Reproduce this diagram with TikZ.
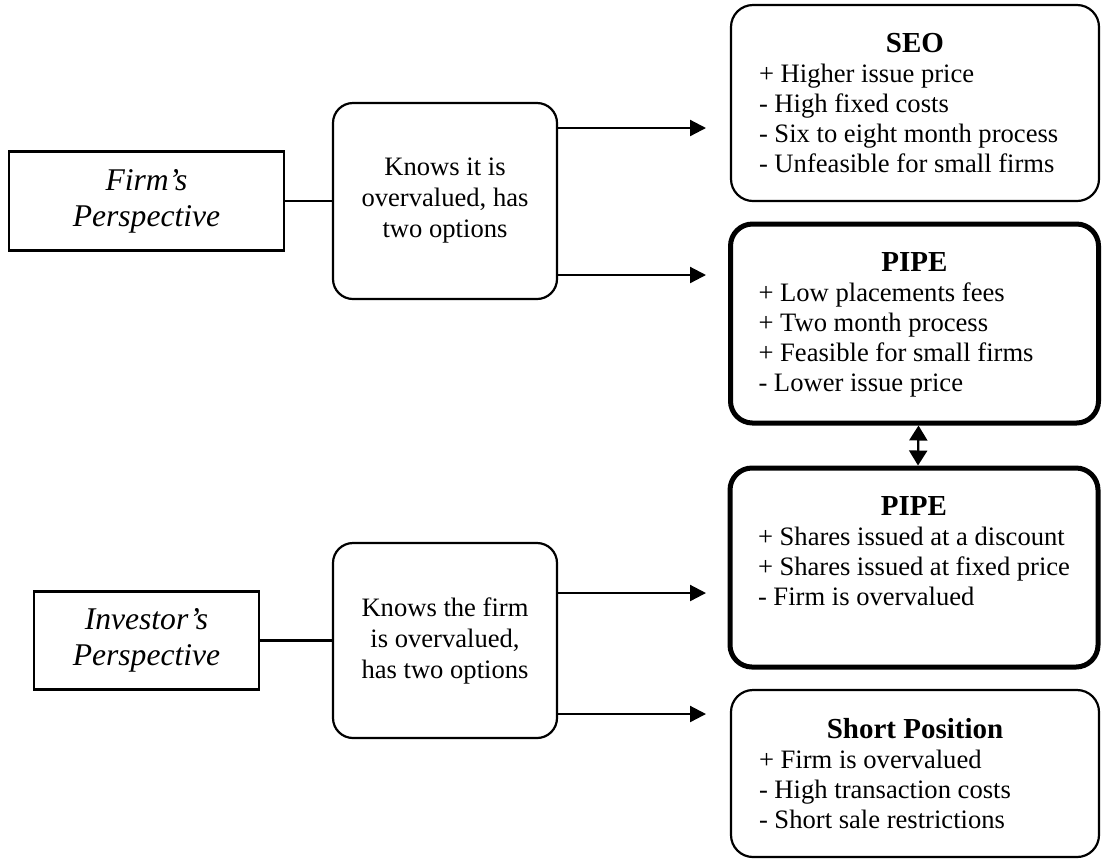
\documentclass[tikz,border=0pt]{standalone}
\usepackage{fontspec}
\setmainfont{Liberation Serif}
\usetikzlibrary{positioning, arrows.meta}

\begin{document}
\begin{tikzpicture}[x=0.5pt, y=-0.5pt, line width=1.1pt,
		persp/.style={draw, align=center, inner sep=0pt, font=\fontsize{15.8}{18}\selectfont\itshape},
		know/.style={draw, rounded corners=10pt, minimum width=112pt, minimum height=98pt, align=center, inner sep=0pt, font=\fontsize{13.3}{15.5}\selectfont},
		opt/.style={draw, rounded corners=11pt, inner xsep=14pt, inner ysep=0pt, font=\fontsize{13.3}{15}\selectfont,
			execute at begin node={\begin{minipage}[c][#1][t]{156pt}\vspace*{14pt}},
			execute at end node={\end{minipage}}},
		strong/.style={line width=2.5pt},
		arr/.style={-{Triangle[length=8pt,width=8pt]}},
		dbl/.style={{Triangle[length=7.5pt,width=9pt]}-{Triangle[length=7.5pt,width=9pt]}}]
			\useasboundingbox (0,0) rectangle (1102,859);
			
			\node[persp, minimum width=137.5pt, minimum height=49.5pt] (firm) at (146.5,201) {Firm’s\\Perspective};
			\node[persp, minimum width=112.5pt, minimum height=49pt] (inv) at (146.5,640.5) {Investor’s\\Perspective};
			
			\node[know] (know1) at (445,201) {Knows it is\\overvalued, has\\two options};
			\node[know, minimum height=97.5pt] (know2) at (445,640.5) {Knows the firm\\is overvalued,\\has two options};
			
			\node[opt=98pt] (seo) at (915,103) {{\centering\fontsize{14.5}{15}\selectfont\bfseries SEO\par}+ Higher issue price\\- High fixed costs\\- Six to eight month process\\- Unfeasible for small firms};
			\node[opt=99.5pt, strong] (pipe1) at (914.5,323.5) {{\centering\fontsize{14.5}{15}\selectfont\bfseries PIPE\par}+ Low placements fees\\+ Two month process\\+ Feasible for small firms\\- Lower issue price};
			\node[opt=99.5pt, strong] (pipe2) at (914,567.5) {{\centering\fontsize{14.5}{15}\selectfont\bfseries PIPE\par}+ Shares issued at a discount\\+ Shares issued at fixed price\\- Firm is overvalued};
			\node[opt=83.5pt] (short) at (915,773.5) {{\centering\fontsize{14.5}{15}\selectfont\bfseries Short Position\par}+ Firm is overvalued\\- High transaction costs\\- Short sale restrictions};
			
			% arrow ends stop short of the boxes
			\coordinate (t1) at (706,128);
			\coordinate (t2) at (706,275);
			\coordinate (t3) at (706,593);
			\coordinate (t4) at (706,714);
			
			\draw (firm) -- (know1);
			\draw (inv) -- (know2);
			\draw[arr] (know1.east |- t1) -- (t1);
			\draw[arr] (know1.east |- t2) -- (t2);
			\draw[arr] (know2.east |- t3) -- (t3);
			\draw[arr] (know2.east |- t4) -- (t4);
			\draw[dbl] ([xshift=2pt]pipe1.south) -- ([xshift=2pt]pipe2.north);
		\end{tikzpicture}
\end{document}
